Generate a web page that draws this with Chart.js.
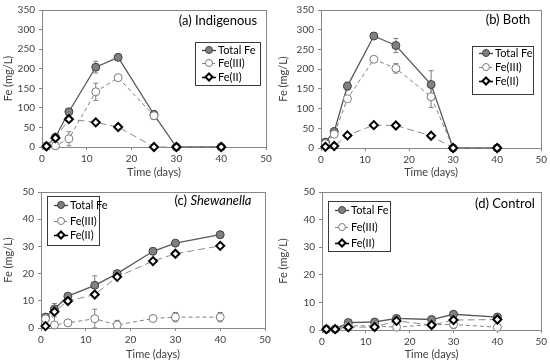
<!DOCTYPE html>
<html><head><meta charset="utf-8">
<script src="https://cdn.jsdelivr.net/npm/chart.js@4"></script>
<style>
html,body{margin:0;padding:0;background:#fff;}
#wrap{position:relative;width:550px;height:364px;background:#fff;}
.p{position:absolute;width:275px;height:182px;}
canvas{display:block;}
</style></head><body>
<div id="wrap">
<div class="p" style="left:0;top:0"><canvas id="ca" width="275" height="182"></canvas></div>
<div class="p" style="left:275px;top:0"><canvas id="cb" width="275" height="182"></canvas></div>
<div class="p" style="left:0;top:182px"><canvas id="cc" width="275" height="182"></canvas></div>
<div class="p" style="left:275px;top:182px"><canvas id="cd" width="275" height="182"></canvas></div>
</div>
<script>
// ---- data ----
const days = [1, 3, 6, 12, 17, 25, 30, 40];
const xTicks = [0, 10, 20, 30, 40, 50];
const yTicksHigh = [0, 50, 100, 150, 200, 250, 300, 350];
const yTicksLow = [0, 10, 20, 30, 40, 50];
const seriesNames = ['Total Fe', 'Fe(III)', 'Fe(II)'];

// (a) Indigenous
const indigTotal = [2, 25, 90, 204, 229, 83, 0, 0];
const indigFe3   = [2, 3, 21, 141, 177, 80, 0, 0];
const indigFe2   = [2, 23, 71, 63, 51, 0, 0, 0];
const indigTotalErr = [0, 3, 5, 15, 8, 10, 0, 0];
const indigFe3Err   = [0, 2, 18, 22, 5, 10, 0, 0];
const indigFe2Err   = [0, 0, 0, 0, 0, 0, 0, 0];

// (b) Both
const bothTotal = [15, 42, 157, 284, 260, 161, 0, 0];
const bothFe3   = [11, 35, 125, 225, 202, 130, 0, 0];
const bothFe2   = [3, 5, 32, 58, 57, 31, 0, 0];
const bothTotalErr = [3, 3, 10, 4, 18, 35, 0, 0];
const bothFe3Err   = [3, 3, 5, 4, 12, 27, 0, 0];
const bothFe2Err   = [0, 0, 0, 0, 0, 0, 0, 0];

// (c) Shewanella
const shewTotal = [4, 7, 11.7, 15.7, 20, 28.2, 31.2, 34.3];
const shewFe3   = [3.4, 1.1, 1.9, 3.4, 1.1, 3.5, 4, 4];
const shewFe2   = [0.7, 6, 9.9, 12.3, 18.8, 24.6, 27.3, 30.2];
const shewTotalErr = [0.5, 2, 1, 3.5, 0.7, 0.5, 0.7, 1.2];
const shewFe3Err   = [0.5, 3, 1, 3.5, 1.7, 0.7, 1.7, 1.7];
const shewFe2Err   = [0.3, 0.5, 0.5, 0.5, 0.5, 0.5, 0.5, 0.5];

// (d) Control
const ctrlTotal = [0.3, 0.3, 2.7, 2.9, 4.2, 3.8, 5.7, 4.7];
const ctrlFe3   = [0.3, 0.3, 1.5, 1.5, 1, 2, 2, 1];
const ctrlFe2   = [0.3, 0.3, 1, 1.1, 3.3, 1.8, 3.6, 3.8];
const ctrlTotalErr = [0.3, 0.3, 0.5, 0.5, 0.5, 0.5, 0.5, 0.5];
const ctrlFe3Err   = [0, 0, 0.5, 0.5, 1.5, 1, 1.5, 1];
const ctrlFe2Err   = [0, 0, 0.3, 0.3, 0.3, 0.3, 0.3, 0.3];

// ---- styling ----
const FONT = 'Lato, "Open Sans", sans-serif';
const AXIS = '#868686';
const TXT = '#404040';
const styles = [
  {order:3, borderColor:'#595959', borderWidth:1.3, borderDash:[], pointStyle:'circle', pointRadius:4, pointBorderWidth:1, pointBackgroundColor:'#808080', pointBorderColor:'#404040'},
  {order:2, borderColor:'#808080', borderWidth:1, borderDash:[4,3], pointStyle:'circle', pointRadius:4, pointBorderWidth:1, pointBackgroundColor:'#ffffff', pointBorderColor:'#7a7a7a'},
  {order:1, borderColor:'#8c8c8c', borderWidth:1, borderDash:[7,4], pointStyle:'rectRot', pointRadius:4, pointBorderWidth:2, pointBackgroundColor:'#ffffff', pointBorderColor:'#000000'}
];
const legendLines = [
  {color:'#404040', width:1.3, dash:[]},
  {color:'#808080', width:1, dash:[3,2]},
  {color:'#000000', width:1.5, dash:[]}
];

const errorBars = {
  id:'errorBars',
  beforeDatasetsDraw(chart){
    const ctx = chart.ctx, ys = chart.scales.y;
    ctx.save();
    ctx.strokeStyle = '#7f7f7f'; ctx.lineWidth = 1; ctx.setLineDash([]);
    chart.data.datasets.forEach((ds,i)=>{
      const meta = chart.getDatasetMeta(i);
      (ds.errors||[]).forEach((e,j)=>{
        if(!e) return;
        const p = meta.data[j]; const v = ds.data[j].y;
        const y1 = ys.getPixelForValue(v+e), y2 = ys.getPixelForValue(Math.max(0,v-e));
        ctx.beginPath();
        ctx.moveTo(p.x, y1); ctx.lineTo(p.x, y2);
        ctx.moveTo(p.x-2.5, y1); ctx.lineTo(p.x+2.5, y1);
        ctx.moveTo(p.x-2.5, y2); ctx.lineTo(p.x+2.5, y2);
        ctx.stroke();
      });
    });
    ctx.restore();
  }
};

const frame = {
  id:'frame',
  beforeDatasetsDraw(chart){
    const a = chart.chartArea, ctx = chart.ctx;
    ctx.save(); ctx.strokeStyle = AXIS; ctx.lineWidth = 1;
    ctx.strokeRect(Math.round(a.left)+0.5, Math.round(a.top)+0.5, Math.round(a.right-a.left), Math.round(a.bottom-a.top));
    ctx.restore();
  }
};

const overlay = {
  id:'overlay',
  afterDraw(chart, args, o){
    const ctx = chart.ctx;
    ctx.save();
    // panel label
    ctx.fillStyle = '#000'; ctx.textBaseline = 'middle';
    ctx.font = '13px ' + FONT;
    const w1 = ctx.measureText(o.label).width;
    let w2 = 0;
    if (o.italic){ ctx.font = 'italic 13px ' + FONT; w2 = ctx.measureText(o.italic).width; }
    let x = o.labelX - (w1+w2)/2;
    ctx.font = '13px ' + FONT; ctx.textAlign = 'left';
    ctx.fillText(o.label, x, o.labelY);
    if (o.italic){ ctx.font = 'italic 13px ' + FONT; ctx.fillText(o.italic, x+w1, o.labelY); }
    // legend
    const L = o.legend;
    ctx.strokeStyle = '#3a3a3a'; ctx.lineWidth = 1; ctx.setLineDash([]);
    ctx.strokeRect(L.x+0.5, L.y+0.5, L.w, L.h);
    chart.data.datasets.forEach((ds,i)=>{
      const ry = L.rows[i];
      const lx = L.x + 7, mx = lx + 7;
      const ll = legendLines[i];
      ctx.save();
      ctx.strokeStyle = ll.color; ctx.lineWidth = ll.width;
      ctx.setLineDash(ll.dash);
      ctx.beginPath(); ctx.moveTo(lx, ry+0.5); ctx.lineTo(lx+14, ry+0.5); ctx.stroke();
      ctx.setLineDash([]);
      ctx.fillStyle = ds.pointBackgroundColor; ctx.strokeStyle = ds.pointBorderColor; ctx.lineWidth = ds.pointBorderWidth;
      ctx.beginPath();
      if (ds.pointStyle === 'rectRot'){
        ctx.moveTo(mx, ry-3.5); ctx.lineTo(mx+3.5, ry); ctx.lineTo(mx, ry+3.5); ctx.lineTo(mx-3.5, ry); ctx.closePath();
      } else { ctx.arc(mx, ry, 3.5, 0, Math.PI*2); }
      ctx.fill(); ctx.stroke();
      ctx.restore();
      ctx.fillStyle = '#000'; ctx.font = '11px ' + FONT; ctx.textAlign = 'left'; ctx.textBaseline = 'middle';
      ctx.fillText(ds.label, lx + 16, ry);
    });
    ctx.restore();
  }
};

function makeChart(id, series, errs, yTicks, lay, ov){
  const datasets = series.map((s,i)=>Object.assign({
    label: seriesNames[i],
    data: days.map((d,j)=>({x:d, y:s[j]})),
    errors: errs[i],
    fill:false, tension:0, clip:false
  }, styles[i]));
  return new Chart(document.getElementById(id), {
    type:'line',
    data:{datasets},
    plugins:[frame, errorBars, overlay],
    options:{
      responsive:false, animation:false, devicePixelRatio:1,
      layout:{padding:{left:0, right:lay.right, top:lay.top, bottom:0}},
      plugins:{legend:{display:false}, tooltip:{enabled:false}, overlay:ov},
      scales:{
        x:{type:'linear', min:0, max:50,
          afterBuildTicks:s=>{s.ticks = xTicks.map(v=>({value:v}));},
          afterFit:s=>{s.height = lay.h;},
          grid:{drawOnChartArea:false, drawTicks:true, tickLength:3, color:AXIS},
          border:{color:AXIS},
          ticks:{font:{family:FONT, size:10}, color:TXT, padding:3, maxRotation:0},
          title:{display:true, text:'Time (days)', font:{family:FONT, size:11}, color:TXT, padding:{top:2,bottom:3}}
        },
        y:{type:'linear', min:0, max:yTicks[yTicks.length-1],
          afterBuildTicks:s=>{s.ticks = yTicks.map(v=>({value:v}));},
          afterFit:s=>{s.width = lay.w;},
          grid:{drawOnChartArea:false, drawTicks:true, tickLength:3, color:AXIS},
          border:{color:AXIS},
          ticks:{font:{family:FONT, size:10}, color:TXT, padding:4},
          title:{display:true, text:'Fe (mg/L)', font:{family:FONT, size:11}, color:TXT, padding:{top:2,bottom:2}}
        }
      }
    }
  });
}

makeChart('ca', [indigTotal, indigFe3, indigFe2], [indigTotalErr, indigFe3Err, indigFe2Err], yTicksHigh,
  {w:42, h:35, top:7, right:9},
  {label:'(a) Indigenous', labelX:218, labelY:21, legend:{x:195, y:42, w:65, h:43, rows:[50,63,77]}});
makeChart('cb', [bothTotal, bothFe3, bothFe2], [bothTotalErr, bothFe3Err, bothFe2Err], yTicksHigh,
  {w:46, h:34, top:9, right:8},
  {label:'(b) Both', labelX:233, labelY:20, legend:{x:197, y:46, w:61, h:48, rows:[53,67,81]}});
makeChart('cc', [shewTotal, shewFe3, shewFe2], [shewTotalErr, shewFe3Err, shewFe2Err], yTicksLow,
  {w:41, h:36, top:7, right:10},
  {label:'(c) ', italic:'Shewanella', labelX:213, labelY:19, legend:{x:47, y:14, w:52, h:49, rows:[23,39,53]}});
makeChart('cd', [ctrlTotal, ctrlFe3, ctrlFe2], [ctrlTotalErr, ctrlFe3Err, ctrlFe2Err], yTicksLow,
  {w:47, h:34, top:9, right:8},
  {label:'(d) Control', labelX:230, labelY:22, legend:{x:53, y:19, w:62, h:50, rows:[28,45,61]}});
</script>
</body></html>
